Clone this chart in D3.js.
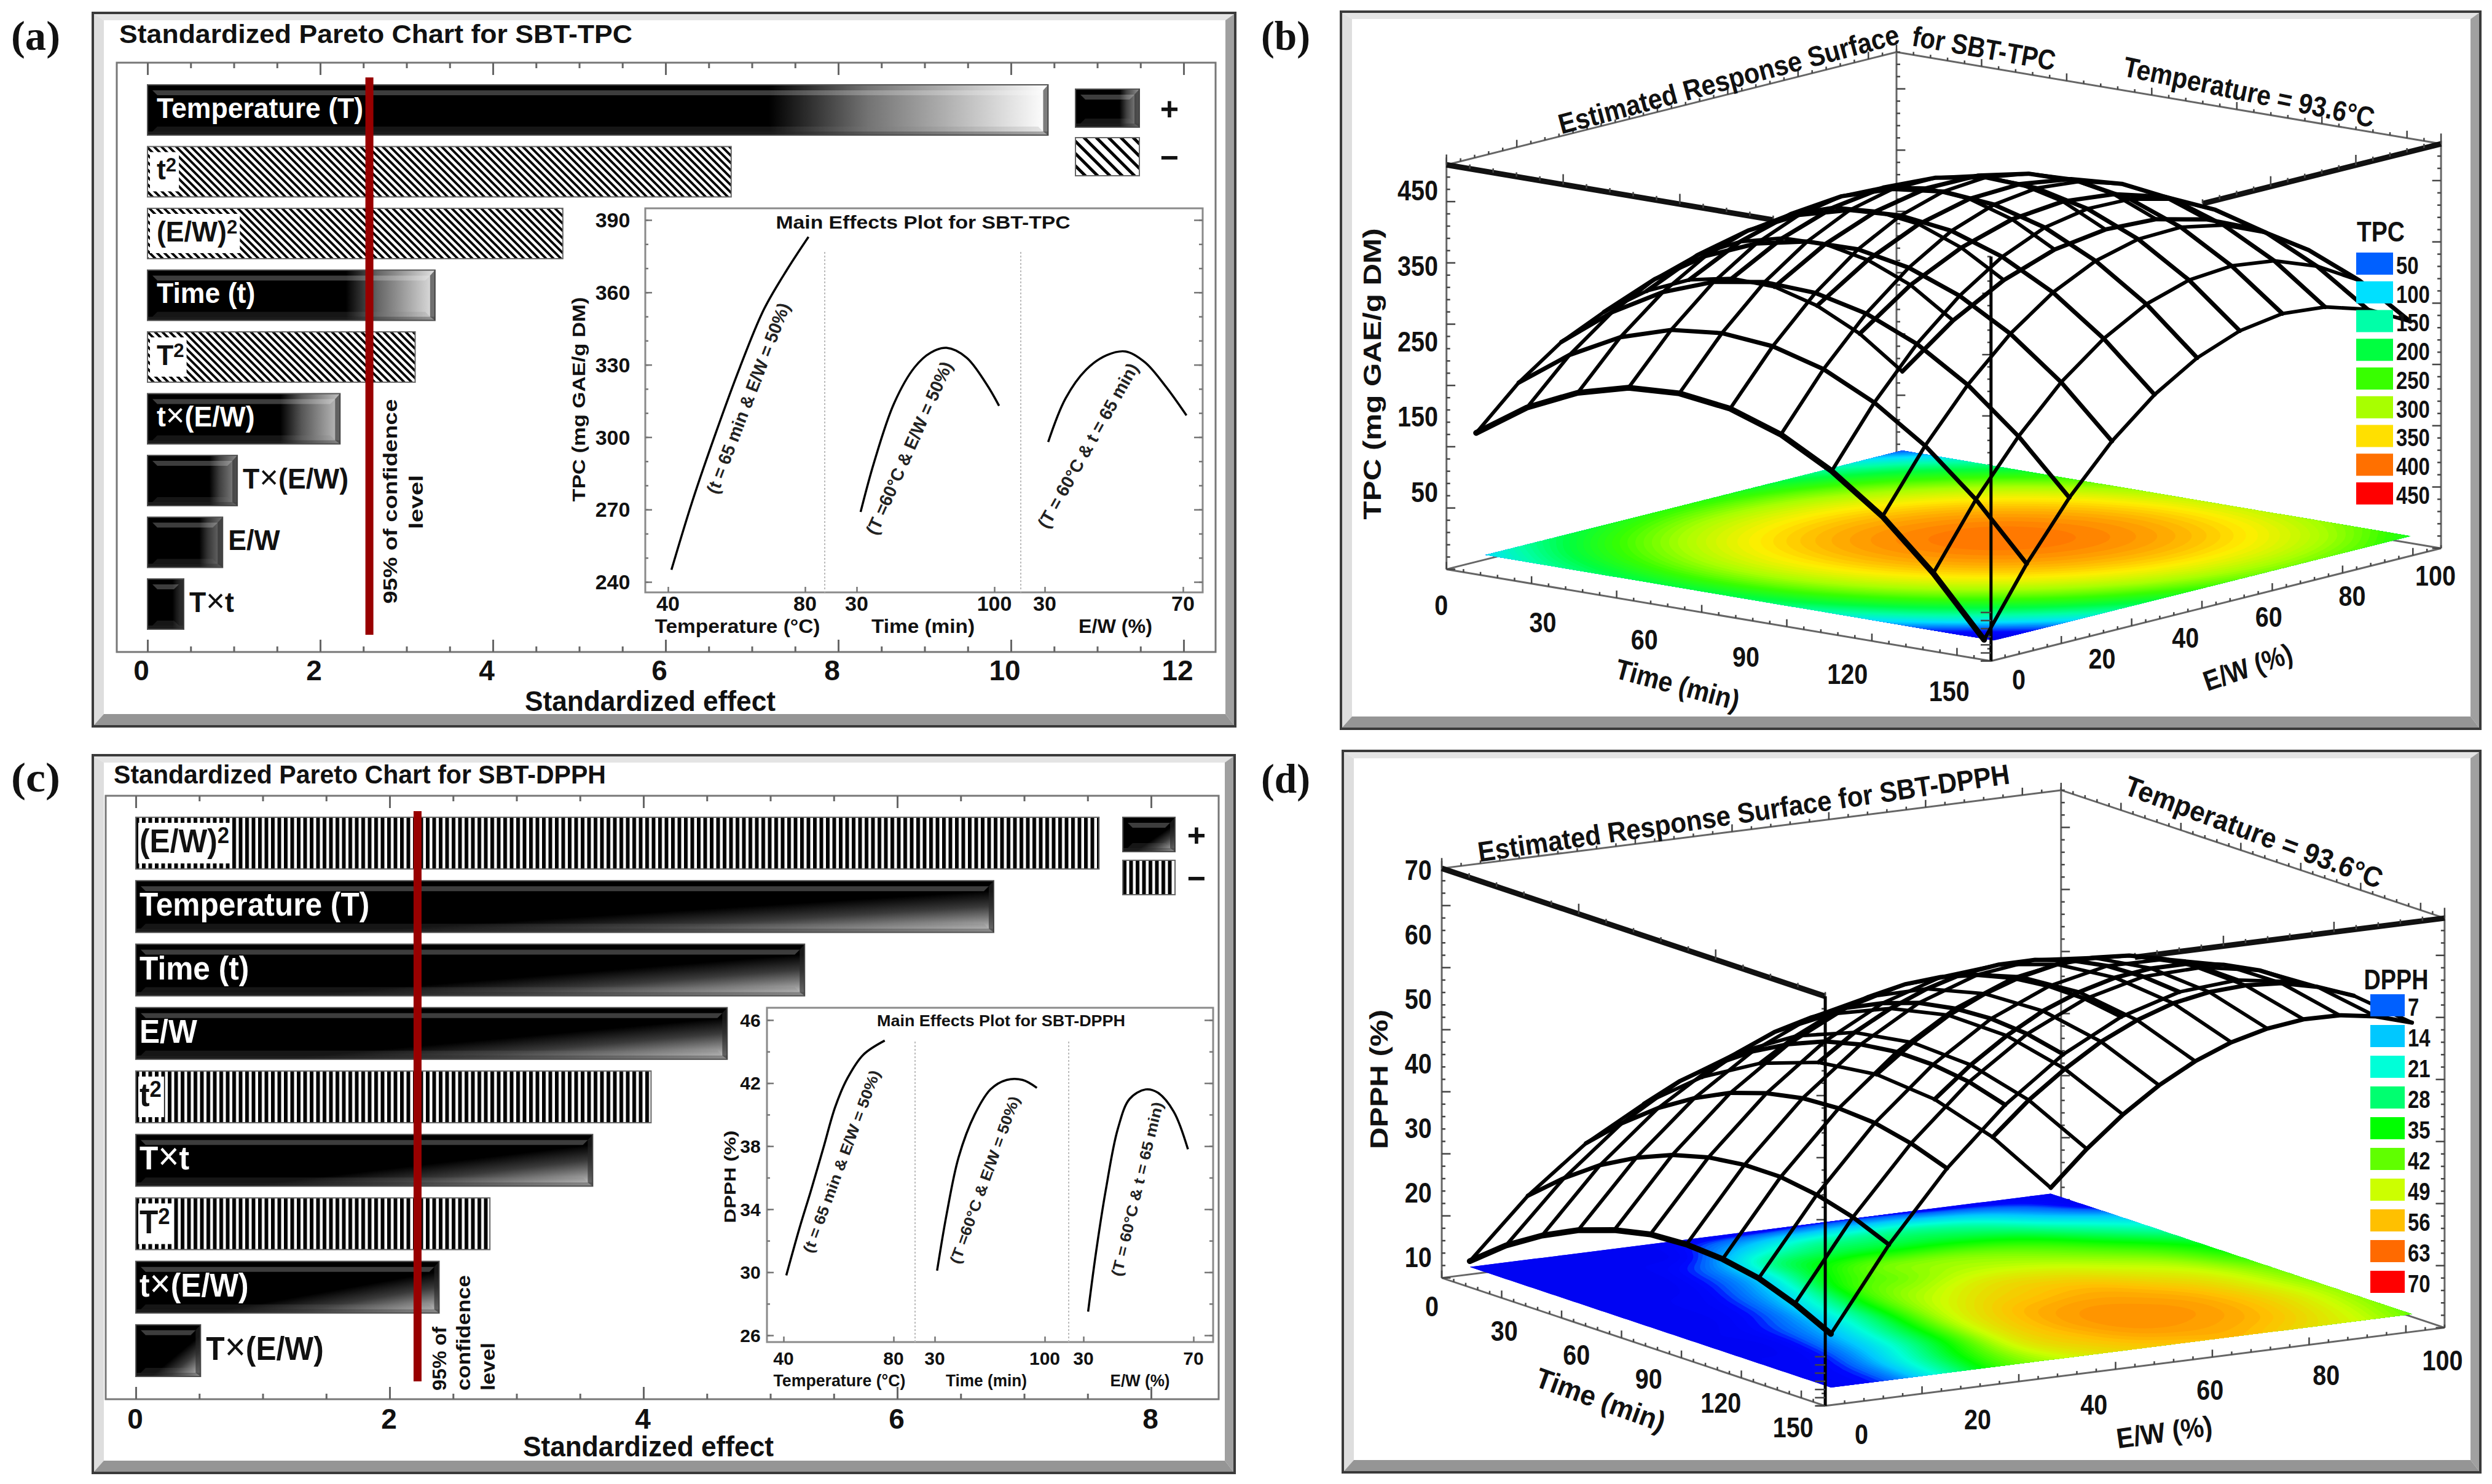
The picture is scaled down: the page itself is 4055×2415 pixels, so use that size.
<!DOCTYPE html>
<html>
<head>
<meta charset="utf-8">
<script src="https://cdn.jsdelivr.net/npm/d3@7"></script>
<style>
html, body { margin: 0; background: #fff; }
text { font-family: "Liberation Sans", Arial, sans-serif; font-weight: 700; fill: #111; }
</style>
</head>
<body>
<svg id="chart" width="4055" height="2415"></svg>
<script>
// --- values ---
const tpcTerms = ["Temperature (T)", "t^2", "(E/W)^2", "Time (t)", "T^2", "t×(E/W)", "T×(E/W)", "E/W", "T×t"];
const tpcEffects = [10.43, 6.76, 4.81, 3.33, 3.10, 2.23, 1.04, 0.87, 0.42];
const tpcSigns = ["+", "-", "-", "+", "-", "+", "+", "+", "+"];
const tpcLimit = 2.57;

const dpphTerms = ["(E/W)^2", "Temperature (T)", "Time (t)", "E/W", "t^2", "T×t", "T^2", "t×(E/W)", "T×(E/W)"];
const dpphEffects = [7.59, 6.76, 5.27, 4.66, 4.06, 3.60, 2.79, 2.39, 0.51];
const dpphSigns = ["-", "+", "+", "+", "-", "+", "-", "+", "+"];
const dpphLimit = 2.22;

const tpcTempCurve = [[41, 245], [47, 273], [54, 302], [61, 329], [68, 353], [75, 370], [81, 383]];
const tpcTimeCurve = [[32, 269], [39, 290], [49, 314], [59.5, 329], [67.6, 335], [75.7, 337], [85.8, 333], [96, 322], [102.4, 313]];
const tpcRatioCurve = [[31, 298], [36, 316], [42, 328], [48, 334], [53.4, 335.5], [59, 331], [65, 321], [71, 309]];
const dpphTempCurve = [[41, 29.8], [45.8, 32.8], [50, 35.2], [54.5, 37.9], [58.8, 40.5], [63.2, 42.3], [69, 43.8], [76.8, 44.7]];
const dpphTimeCurve = [[31.5, 30.1], [37.6, 33.7], [45.2, 37.3], [55.4, 40], [65.5, 41.6], [75.7, 42.2], [86, 42.2], [95, 41.7]];
const dpphRatioCurve = [[31.7, 27.5], [34.6, 31.3], [38.1, 35.2], [42.5, 39.1], [46.8, 41], [52.6, 41.6], [57, 41.4], [62.8, 40.2], [68, 37.8]];

const surfaceTime = [0, 15, 30, 45, 60, 75, 90, 105, 120, 135, 150];
const surfaceRatio = [0, 10, 20, 30, 40, 50, 60, 70, 80, 90, 100];

// rows: time, columns: E/W
const tpcSurface = [
  [109, 162, 202, 228, 242, 243, 231, 206, 167, 116, 52],
  [154, 210, 253, 283, 301, 305, 296, 274, 239, 192, 131],
  [185, 245, 291, 325, 345, 353, 348, 329, 298, 253, 196],
  [203, 266, 316, 353, 377, 388, 386, 371, 343, 302, 248],
  [207, 273, 327, 367, 395, 409, 410, 399, 374, 337, 286],
  [198, 267, 324, 368, 399, 417, 422, 413, 392, 358, 311],
  [175, 248, 308, 355, 390, 411, 419, 414, 397, 366, 322],
  [138, 215, 279, 329, 367, 392, 403, 402, 388, 360, 320],
  [89, 169, 236, 290, 331, 359, 374, 376, 365, 341, 304],
  [25, 109, 179, 237, 281, 313, 331, 336, 329, 308, 275],
  [-52, 35, 109, 170, 218, 253, 275, 284, 279, 262, 232]
];
const dpphSurface = [
  [7.6, 16.6, 23.6, 28.6, 31.6, 32.6, 31.6, 28.6, 23.6, 16.6, 7.6],
  [11.9, 21.2, 28.6, 34, 37.3, 38.7, 38.1, 35.4, 30.8, 24.2, 15.5],
  [15.3, 25.1, 32.8, 38.5, 42.3, 44, 43.7, 41.5, 37.2, 30.9, 22.7],
  [18, 28.1, 36.2, 42.3, 46.4, 48.5, 48.6, 46.7, 42.9, 37, 29.1],
  [19.9, 30.4, 38.9, 45.3, 49.8, 52.3, 52.8, 51.2, 47.7, 42.2, 34.7],
  [21.1, 31.9, 40.7, 47.6, 52.4, 55.3, 56.1, 55, 51.8, 46.7, 39.5],
  [21.4, 32.6, 41.8, 49, 54.3, 57.5, 58.7, 57.9, 55.1, 50.3, 43.5],
  [21, 32.6, 42.1, 49.7, 55.3, 58.9, 60.5, 60.1, 57.7, 53.2, 46.8],
  [19.9, 31.7, 41.7, 49.6, 55.6, 59.5, 61.5, 61.4, 59.4, 55.4, 49.3],
  [17.8, 30.1, 40.4, 48.8, 55.1, 59.4, 61.7, 62, 60.4, 56.7, 51],
  [15, 27.7, 38.4, 47.1, 53.8, 58.5, 61.2, 61.9, 60.5, 57.2, 51.9]
];
// the DPPH contour floor does not follow the wire mesh, so it is read on its own
const dpphFloor = [
  [3, 3, 3, 3, 3, 3, 5, 5, 3, 3, 3],
  [3, 3, 3, 4, 14, 22, 24, 24, 20, 12, 4],
  [3, 3, 3, 10, 27, 32, 33, 33, 30, 23, 16],
  [3, 3, 4, 13, 32, 42, 44, 43, 39, 32, 25],
  [3, 3, 6, 18, 38, 44, 48, 48, 45, 40, 33],
  [3, 3, 8, 23, 42, 49, 53, 53, 50, 46, 38],
  [3, 4, 11, 26, 45, 53, 56, 57, 54, 50, 43],
  [3, 4, 14, 30, 48, 56, 59, 59, 57, 52, 45],
  [3, 5, 17, 33, 50, 57, 60, 60, 58, 53, 46],
  [3, 7, 22, 38, 51, 56, 59, 59, 57, 52, 45],
  [3, 8, 25, 41, 49, 54, 56, 57, 54, 50, 43]
];

const tpcLegend = [50, 100, 150, 200, 250, 300, 350, 400, 450];
const dpphLegend = [7, 14, 21, 28, 35, 42, 49, 56, 63, 70];
const tpcLegendColors = ["#0060ff", "#00e0ff", "#00ffa8", "#00ff40", "#38ff00", "#a8ff00", "#ffe000", "#ff7000", "#ff0000"];
const dpphLegendColors = ["#0060ff", "#00c8ff", "#00ffd8", "#00ff70", "#00ff00", "#60ff00", "#ccff00", "#ffc000", "#ff6a00", "#ff0000"];
const tpcRampStops = [-60, 20, 50, 100, 150, 200, 250, 300, 350, 390, 425];
const tpcRampColors = ["#0000e0", "#0008ff", "#0060ff", "#00e0ff", "#00ffa8", "#00ff40", "#38ff00", "#a8ff00", "#ffee00", "#ffa800", "#ff6800"];
const dpphRampStops = [0, 5, 7, 14, 21, 28, 35, 42, 49, 56, 63];
const dpphRampColors = ["#0000e8", "#0008ff", "#0060ff", "#00c8ff", "#00ffd8", "#00ff70", "#00ff00", "#60ff00", "#ccff00", "#ffc000", "#ff6a00"];

const svg = d3.select("#chart");
const defs = svg.append("defs");
svg.append("rect").attr("width", 4055).attr("height", 2415).attr("fill", "#fff");

function label(g, s, x, y, o = {}) {
  const t = g.append("text")
    .attr("transform", `translate(${x},${y}) rotate(${o.rot || 0})`)
    .attr("dy", ".36em")
    .attr("text-anchor", o.anchor || "middle")
    .style("font-size", (o.size || 40) + "px")
    .text(s);
  if (o.len) t.attr("textLength", o.len).attr("lengthAdjust", "spacingAndGlyphs");
  if (o.family) t.style("font-family", o.family);
  if (o.fill) t.style("fill", o.fill);
  return t;
}

// term names carry "^2" for the exponent and a thin multiplication sign
function termLabel(g, name, x, y, size, fill, squeeze) {
  const t = g.append("text").attr("transform", `translate(${x},${y}) scale(${squeeze},1)`).attr("dy", ".36em")
    .style("font-size", size + "px").style("fill", fill);
  name.split(/(\^2|×)/).filter((s) => s).forEach((s) => {
    if (s === "^2") {
      t.append("tspan").attr("dy", "-.4em").style("font-size", "70%").text("2");
    } else if (s === "×") {
      t.append("tspan").style("font-weight", 400).style("font-size", "118%").text("×");
    } else {
      t.append("tspan").text(s);
    }
  });
  return t;
}

function panelFrame(x0, y0, x1, y1) {
  const g = svg.append("g");
  g.append("rect").attr("x", x0).attr("y", y0).attr("width", x1 - x0).attr("height", y1 - y0)
    .attr("fill", "#fff").attr("stroke", "#3a3a3a").attr("stroke-width", 4);
  const band = (pts, fill) => g.append("polygon").attr("points", pts.join(" ")).attr("fill", fill);
  band([[x0 + 2, y0 + 2], [x1 - 2, y0 + 2], [x1 - 16, y0 + 12], [x0 + 18, y0 + 12]], "#e4e4e4");
  band([[x0 + 2, y0 + 2], [x0 + 18, y0 + 12], [x0 + 18, y1 - 20], [x0 + 2, y1 - 2]], "#dedede");
  band([[x1 - 2, y0 + 2], [x1 - 16, y0 + 12], [x1 - 16, y1 - 20], [x1 - 2, y1 - 2]], "#a0a0a0");
  band([[x0 + 2, y1 - 2], [x0 + 18, y1 - 20], [x1 - 16, y1 - 20], [x1 - 2, y1 - 2]], "#959595");
}

function hatch(id, kind, size, black) {
  const p = defs.append("pattern").attr("id", id).attr("patternUnits", "userSpaceOnUse")
    .attr("width", size).attr("height", size);
  p.append("rect").attr("width", size).attr("height", size).attr("fill", "#fff");
  if (kind === "diag") {
    p.append("path").attr("d", `M${-size},0 L${size},${2 * size} M0,${-size} L${2 * size},${size} M${-size},${-size} L${2 * size},${2 * size}`)
      .attr("stroke", "#000").attr("stroke-width", black);
  } else {
    p.append("rect").attr("width", black).attr("height", size).attr("fill", "#000");
  }
}
hatch("diagBar", "diag", 12, 3.9);
hatch("diagKey", "diag", 20, 5);
hatch("vertBar", "vert", 10.5, 6);

const endTone = d3.scaleLinear().domain([0.4, 1.04, 2.23, 3.33, 10.43]).range(["#333", "#8a8a8a", "#c0c0c0", "#e0e0e0", "#fff"]).clamp(true);
let gradientCount = 0;
function barGradient(kind, value) {
  const id = "shade" + gradientCount++;
  if (kind === "side") {
    const g = defs.append("linearGradient").attr("id", id);
    [[0, "#000"], [0.69, "#000"], [0.8, d3.interpolateRgb("#000", endTone(value))(0.45)], [1, endTone(value)]]
      .forEach((s) => g.append("stop").attr("offset", s[0]).attr("stop-color", s[1]));
  } else {
    const g = defs.append("linearGradient").attr("id", id)
      .attr("x1", 0.5).attr("y1", 0.72).attr("x2", 0.92).attr("y2", 1.12);
    [[0, "#000"], [0.35, "#3a3a3a"], [0.9, "#c4c4c4"], [1, "#d8d8d8"]]
      .forEach((s) => g.append("stop").attr("offset", s[0]).attr("stop-color", s[1]));
  }
  return `url(#${id})`;
}

function solidBar(g, x, y, w, h, kind, value) {
  g.append("rect").attr("x", x).attr("y", y).attr("width", w).attr("height", h)
    .attr("fill", barGradient(kind, value)).attr("stroke", "#555").attr("stroke-width", 2);
  const b = Math.min(8, w / 6), top = 9;
  const facet = (pts, fill) => g.append("polygon").attr("points", pts.join(" ")).attr("fill", fill);
  facet([[x + b, y + top], [x + w - b, y + top], [x + w - 2 * b, y + top + 8], [x + 2 * b, y + top + 8]], "rgba(255,255,255,.24)");
  facet([[x + 2 * b, y + h - 14], [x + w - 2 * b, y + h - 14], [x + w - b, y + h - 6], [x + b, y + h - 6]], "rgba(120,120,120,.18)");
  facet([[x + w, y], [x + w - b, y + top], [x + w - b, y + h - 6], [x + w, y + h]], "rgba(40,40,40,.6)");
  facet([[x, y + h - 6], [x + w, y + h - 6], [x + w, y + h], [x, y + h]], "rgba(60,60,60,.45)");
}

function pareto(c) {
  const g = svg.append("g");
  g.append("rect").attr("x", c.plot[0]).attr("y", c.plot[1]).attr("width", c.plot[2] - c.plot[0]).attr("height", c.plot[3] - c.plot[1])
    .attr("fill", "#fff").attr("stroke", "#777").attr("stroke-width", 3);
  label(g, c.title, c.titleAt[0], c.titleAt[1], { anchor: "start", size: 42, len: c.titleLen });

  const x = d3.scaleLinear().domain(c.domain).range(c.xRange);
  const y = d3.scaleBand().domain(c.terms).range(c.yRange).paddingInner(0.185);

  const minor = d3.range(c.domain[0], c.domain[1] + 0.01, 0.5).filter((v) => !c.xTicks.includes(v));
  [[d3.axisBottom, c.plot[3]], [d3.axisTop, c.plot[1]]].forEach(([axis, pos]) => {
    [[c.xTicks, 20], [minor, 9]].forEach(([vals, len]) => {
      g.append("g").attr("transform", `translate(0,${pos})`)
        .call(axis(x).tickValues(vals).tickSize(-len).tickFormat(""))
        .call((a) => a.select(".domain").remove())
        .call((a) => a.selectAll("line").attr("stroke", "#666").attr("stroke-width", 3));
    });
  });
  c.xTicks.forEach((v) => label(g, v, x(v) + c.tickShift, c.tickY, { size: 46 }));
  label(g, "Standardized effect", c.nameAt[0], c.nameAt[1], { size: 46, len: 408 });

  c.terms.forEach((name, i) => {
    const v = c.effects[i], bx = x(0), by = y(name), bw = x(v) - x(0), bh = y.bandwidth();
    const inside = v > c.outsideBelow;
    const ty = by + bh / 2 - 4;
    if (c.signs[i] === "+") {
      solidBar(g, bx, by, bw, bh, c.shade, v);
      if (inside) termLabel(g, name, bx + c.textPad, ty, c.barFont, "#fff", c.squeeze);
    } else {
      g.append("rect").attr("x", bx).attr("y", by).attr("width", bw).attr("height", bh)
        .attr("fill", `url(#${c.hatchBar})`).attr("stroke", "#666").attr("stroke-width", 2);
      const t = termLabel(g, name, bx + c.textPad, ty, c.barFont, "#111", c.squeeze);
      const box = t.node().getBBox();
      g.insert("rect", () => t.node()).attr("x", bx + 4).attr("y", by + 9)
        .attr("width", c.textPad + box.width * c.squeeze).attr("height", bh - 18).attr("fill", "#fff");
    }
    if (!inside) termLabel(g, name, bx + bw + 9, ty, c.barFont, "#111", c.squeeze);
  });

  g.append("line").attr("x1", x(c.limit)).attr("x2", x(c.limit)).attr("y1", c.limitY[0]).attr("y2", c.limitY[1])
    .attr("stroke", "#980000").attr("stroke-width", 13);
  c.limitText.forEach((d) => label(g, d.s, d.x, d.y, { rot: -90, size: 32, len: d.len, anchor: d.anchor }));

  solidBar(g, c.key[0], c.key[1], c.key[2], c.key[3], c.shade, 1.2);
  g.append("rect").attr("x", c.key[0]).attr("y", c.key[4]).attr("width", c.key[2]).attr("height", c.key[3])
    .attr("fill", `url(#${c.hatchKey})`).attr("stroke", "#666").attr("stroke-width", 2);
  label(g, "+", c.keyText, c.key[1] + c.key[3] / 2, { size: 52 });
  label(g, "−", c.keyText, c.key[4] + c.key[3] / 2, { size: 52 });

  inset(g, c.inset);
}

function inset(parent, c) {
  const g = parent.append("g");
  const [x0, y0, x1, y1] = c.frame;
  g.append("rect").attr("x", x0).attr("y", y0).attr("width", x1 - x0).attr("height", y1 - y0)
    .attr("fill", "#fff").attr("stroke", "#8a8a8a").attr("stroke-width", 3);
  const y = d3.scaleLinear().domain(c.yDomain).range(c.yRange);
  const ySide = (axis, pos, vals, len) => g.append("g").attr("transform", `translate(${pos},0)`)
    .call(axis(y).tickValues(vals).tickSize(-len).tickFormat(""))
    .call((a) => a.select(".domain").remove())
    .call((a) => a.selectAll("line").attr("stroke", "#777").attr("stroke-width", 2.5));
  ySide(d3.axisLeft, x0, c.yMinor, 5);
  ySide(d3.axisRight, x1, c.yMinor, 6);
  ySide(d3.axisLeft, x0, c.yTicks, 11);
  ySide(d3.axisRight, x1, c.yTicks, 14);
  c.yTicks.forEach((v) => label(g, v, c.yLabelX, y(v), { size: c.tick }));
  label(g, c.yName, c.yNameAt[0], c.yNameAt[1], { rot: -90, size: c.tick - 4, len: c.yNameLen });
  label(g, c.title, c.titleAt[0], c.titleAt[1], { size: c.tick - 4, len: c.titleLen });

  c.seps.forEach((s) => g.append("line").attr("x1", s).attr("x2", s).attr("y1", c.sepTop).attr("y2", y1)
    .attr("stroke", "#bbb").attr("stroke-width", 2).attr("stroke-dasharray", "3 3"));

  c.parts.forEach((p) => {
    const x = d3.scaleLinear().domain(p.domain).range(p.range);
    g.append("g").attr("transform", `translate(0,${y1})`)
      .call(d3.axisBottom(x).tickValues(p.domain).tickSize(-9).tickFormat(""))
      .call((a) => a.select(".domain").remove())
      .call((a) => a.selectAll("line").attr("stroke", "#777").attr("stroke-width", 2.5));
    p.domain.forEach((v) => label(g, v, x(v), c.tickY, { size: c.tick }));
    label(g, p.name, p.nameX, c.nameY, { size: c.tick - 3, len: p.nameLen });
    g.append("path").datum(p.curve).attr("fill", "none").attr("stroke", "#000").attr("stroke-width", 3.5)
      .attr("d", d3.line().x((d) => x(d[0])).y((d) => y(d[1])).curve(d3.curveCatmullRom));
    label(g, p.note, p.noteAt[0], p.noteAt[1], { rot: p.noteRot, size: c.tick - 5, len: p.noteLen, fill: "#222" });
  });
}

// cubic smoothing of a read grid, only so that the contour bands are drawn round
function smoothGrid(grid, k) {
  const n = grid.length, m = grid[0].length, size = (n - 1) * k + 1;
  const at = (i, j) => {
    const a = Math.max(0, Math.min(n - 1, i)), b = Math.max(0, Math.min(m - 1, j));
    return grid[a][b] + (i - a) * (a > 0 ? grid[a][b] - grid[a - 1][b] : grid[a + 1][b] - grid[a][b])
      + (j - b) * (b > 0 ? grid[a][b] - grid[a][b - 1] : grid[a][b + 1] - grid[a][b]);
  };
  const cr = (p0, p1, p2, p3, f) => 0.5 * (2 * p1 + (p2 - p0) * f + (2 * p0 - 5 * p1 + 4 * p2 - p3) * f * f + (3 * p1 - p0 - 3 * p2 + p3) * f * f * f);
  const values = new Array(size * size);
  for (let a = 0; a < size; a++) {
    const i = Math.min(n - 2, Math.floor(a / k)), fi = a / k - i;
    for (let b = 0; b < size; b++) {
      const j = Math.min(m - 2, Math.floor(b / k)), fj = b / k - j;
      const col = [-1, 0, 1, 2].map((d) => cr(at(i + d, j - 1), at(i + d, j), at(i + d, j + 1), at(i + d, j + 2), fj));
      values[b + a * size] = cr(col[0], col[1], col[2], col[3], fi);
    }
  }
  return { values, size };
}

function surfacePanel(c) {
  const g = svg.append("g");
  const px = (p) => [c.ox + p[0] * c.sx, c.oy + p[1] * c.sy];
  const tx = d3.scaleLinear().domain([0, 150]).range([0, c.u[0]]);
  const ty = d3.scaleLinear().domain([0, 150]).range([0, c.u[1]]);
  const ex = d3.scaleLinear().domain([0, 100]).range([0, c.v[0]]);
  const ey = d3.scaleLinear().domain([0, 100]).range([0, c.v[1]]);
  const zy = d3.scaleLinear().domain(c.zDomain).range([0, c.height]);
  const crop = (t, e, z) => [c.floor[0] + tx(t) + ex(e), c.floor[1] + ty(t) + ey(e) - zy(z)];
  const project = (t, e, z) => px(crop(t, e, z));
  const nudge = d3.scaleLinear().domain([0, 100]).range([c.wireNudge, 0]);
  const wirePoint = (t, e, z) => {
    const p = crop(t, e, z);
    return px([p[0] + nudge(e), p[1]]);
  };
  const color = d3.scaleLinear().domain(c.rampStops).range(c.rampColors).clamp(true);

  const [t0, t1] = c.boxT, [e0, e1] = c.boxE, [zb, zt] = c.zDomain;
  const edge = (a, b, w, col, frac = 1) => {
    const end = [a[0] + (b[0] - a[0]) * frac, a[1] + (b[1] - a[1]) * frac];
    g.append("line").attr("x1", a[0]).attr("y1", a[1]).attr("x2", end[0]).attr("y2", end[1])
      .attr("stroke", col).attr("stroke-width", w);
  };
  const ticks = (a, b, count, dx, dy, every) => d3.range(0, count + 1).forEach((k) => {
    const f = k / count, x = a[0] + (b[0] - a[0]) * f, y = a[1] + (b[1] - a[1]) * f, s = k % every === 0 ? 2.4 : 1;
    g.append("line").attr("x1", x).attr("y1", y).attr("x2", x + dx * s).attr("y2", y + dy * s)
      .attr("stroke", "#444").attr("stroke-width", 2.5);
  });

  const Lb = project(t0, e0, zb), Fb = project(t1, e0, zb), Rb = project(t1, e1, zb), Bb = project(t0, e1, zb);
  const Lt = project(t0, e0, zt), Ft = project(t1, e0, zt), Rt = project(t1, e1, zt), Bt = project(t0, e1, zt);

  [[Lb, Lt], [Rb, Rt], [Bb, Bt], [Lb, Fb], [Fb, Rb], [Lb, Bb], [Bb, Rb], [Lt, Bt], [Bt, Rt]]
    .forEach(([a, b]) => edge(a, b, 3, "#666"));
  [[Lb, Lt, 6, 0], [Rb, Rt, -6, 0], [Bb, Bt, 6, 0], [Fb, Ft, -6, 0]].forEach(([a, b, dx, dy]) => ticks(a, b, 33, dx, dy, 5));
  ticks(Lb, Fb, 32, 0, -5, 5);
  ticks(Fb, Rb, 32, 0, -5, 5);
  ticks(Lt, Bt, 32, 0, -5, 5);
  ticks(Bt, Rt, 32, 0, -5, 5);
  edge(Lt, Ft, 9, "#111", c.thickLeft);
  edge(Rt, Ft, 9, "#111", c.thickRight);
  ticks(Lt, [Lt[0] + (Ft[0] - Lt[0]) * c.thickLeft, Lt[1] + (Ft[1] - Lt[1]) * c.thickLeft], 14, 0, -7, 5);
  ticks(Rt, [Rt[0] + (Ft[0] - Rt[0]) * c.thickRight, Rt[1] + (Ft[1] - Rt[1]) * c.thickRight], 14, 0, -7, 5);

  // contour floor
  const k = 8;
  const { values, size } = smoothGrid(c.floorGrid, k);
  const lo = d3.min(values) - 1, hi = d3.max(values);
  const levels = d3.range(lo, hi, (hi - lo) / 70);
  const floorPath = d3.geoPath(d3.geoTransform({
    point(x, y) {
      const t = Math.max(0, Math.min(150, ((y - 0.5) / k) * 15));
      const e = Math.max(0, Math.min(100, ((x - 0.5) / k) * 10));
      const p = project(t, e, zb);
      this.stream.point(p[0], p[1]);
    }
  }));
  g.append("g").selectAll("path")
    .data(d3.contours().size([size, size]).thresholds(levels)(values))
    .join("path")
    .attr("d", floorPath)
    .attr("fill", (d) => color(d.value));

  edge(Fb, Ft, 5, "#000");
  ticks(Fb, [Fb[0], Fb[1] + (Ft[1] - Fb[1]) * 0.12], 6, -7, 0, 1);

  // wire mesh
  const wire = d3.line().x((d) => d[0]).y((d) => d[1]);
  const mesh = g.append("g").attr("fill", "none").attr("stroke", "#000").attr("stroke-linejoin", "round").attr("stroke-linecap", "round");
  surfaceTime.forEach((t, i) => {
    mesh.append("path").attr("stroke-width", 5.8)
      .attr("d", wire(surfaceRatio.map((e, j) => wirePoint(t, e, c.surface[i][j]))));
  });
  surfaceRatio.forEach((e, j) => {
    mesh.append("path").attr("stroke-width", j === 0 ? 9.5 : 7)
      .attr("d", wire(surfaceTime.map((t, i) => wirePoint(t, e, c.surface[i][j]))));
  });

  // axis numbers
  c.zTicks.forEach((v) => {
    const p = project(t0, e0, v);
    label(g, v, c.ox + c.zLabelX * c.sx, p[1], { anchor: "end", size: 46, len: String(v).length * 22 });
  });
  c.tTicks.forEach((v) => {
    const p = crop(v, e0, zb), q = px([p[0] + c.tOffset[0], p[1] + c.tOffset[1]]);
    label(g, v, q[0], q[1], { size: 46, len: String(v).length * 22 });
  });
  c.eTicks.forEach((v) => {
    const p = crop(t1, v, zb), q = px([p[0] + c.eOffset[0], p[1] + c.eOffset[1]]);
    label(g, v, q[0], q[1], { size: 46, len: String(v).length * 22 });
  });
  c.texts.forEach((d) => {
    const q = px(d.at);
    label(g, d.s, q[0], q[1], { rot: d.rot, size: d.size || 46, len: d.len });
  });

  // colour key
  const keyY = d3.scaleLinear().domain([0, c.legend.length - 1]).range(c.keyRange);
  c.legend.forEach((v, i) => {
    g.append("rect").attr("x", c.keyX).attr("y", keyY(i)).attr("width", c.keyW).attr("height", 36).attr("fill", c.legendColors[i]);
    label(g, v, c.keyX + c.keyW + 5, keyY(i) + 20, { anchor: "start", size: 41, len: String(v).length * 18.3 });
  });
  label(g, c.keyTitle[0], c.keyTitle[1], c.keyTitle[2], { size: 46, len: c.keyTitle[3] });
}

// --- panels ---
panelFrame(151, 21, 2010, 1182);
panelFrame(151, 1229, 2009, 2397);
panelFrame(2182, 19, 4036, 1186);
panelFrame(2185, 1222, 4036, 2396);

[["(a)", 58, 57], ["(b)", 2092, 57], ["(c)", 58, 1264], ["(d)", 2092, 1266]].forEach((d) =>
  label(svg, d[0], d[1], d[2], { size: 68, family: '"Liberation Serif", serif', len: 80 }));

pareto({
  title: "Standardized Pareto Chart for SBT-TPC", titleAt: [194, 55], titleLen: 835,
  plot: [190, 102, 1978, 1061],
  domain: [0, 12], xRange: [240, 1926], xTicks: [0, 2, 4, 6, 8, 10, 12],
  yRange: [138, 1024], tickY: 1090, tickShift: -10, nameAt: [1058, 1140],
  terms: tpcTerms, effects: tpcEffects, signs: tpcSigns, limit: tpcLimit, limitY: [126, 1033],
  outsideBelow: 1.5, shade: "side", barFont: 46, squeeze: 0.97, textPad: 15, hatchBar: "diagBar", hatchKey: "diagKey",
  limitText: [{ s: "95% of confidence", x: 634, y: 816, len: 333 }, { s: "level", x: 676, y: 817, len: 88 }],
  key: [1750, 145, 104, 62, 224], keyText: 1903,
  inset: {
    frame: [1050, 339, 1957, 964], yDomain: [240, 390], yRange: [947, 358],
    yTicks: [240, 270, 300, 330, 360, 390], yMinor: d3.range(240, 391, 10),
    yLabelX: 997, tick: 34, tickY: 982, nameY: 1019,
    yName: "TPC (mg GAE/g DM)", yNameAt: [941, 650], yNameLen: 333,
    title: "Main Effects Plot for SBT-TPC", titleAt: [1502, 361], titleLen: 479,
    seps: [1342, 1661], sepTop: 410,
    parts: [
      { domain: [40, 80], range: [1087, 1310], name: "Temperature (°C)", nameX: 1200, nameLen: 269, curve: tpcTempCurve,
        note: "(t = 65 min & E/W = 50%)", noteAt: [1217, 648], noteRot: -69, noteLen: 330 },
      { domain: [30, 100], range: [1394, 1618], name: "Time (min)", nameX: 1502, nameLen: 168, curve: tpcTimeCurve,
        note: "(T =60°C & E/W = 50%)", noteAt: [1479, 729], noteRot: -66, noteLen: 305 },
      { domain: [30, 70], range: [1700, 1925], name: "E/W (%)", nameX: 1815, nameLen: 120, curve: tpcRatioCurve,
        note: "(T = 60°C & t = 65 min)", noteAt: [1770, 725], noteRot: -60.6, noteLen: 303 }
    ]
  }
});

pareto({
  title: "Standardized Pareto Chart for SBT-DPPH", titleAt: [185, 1260], titleLen: 801,
  plot: [172, 1295, 1983, 2277],
  domain: [0, 8], xRange: [221, 1873], xTicks: [0, 2, 4, 6, 8],
  yRange: [1330, 2240], tickY: 2308, tickShift: -1, nameAt: [1055, 2353],
  terms: dpphTerms, effects: dpphEffects, signs: dpphSigns, limit: dpphLimit, limitY: [1320, 2248],
  outsideBelow: 1, shade: "corner", barFont: 53, squeeze: 0.937, textPad: 6, hatchBar: "vertBar", hatchKey: "vertBar",
  limitText: [
    { s: "95% of", x: 714, y: 2263, len: 104, anchor: "start" },
    { s: "confidence", x: 753, y: 2263, len: 188, anchor: "start" },
    { s: "level", x: 793, y: 2263, len: 78, anchor: "start" }
  ],
  key: [1827, 1330, 85, 56, 1400], keyText: 1947,
  inset: {
    frame: [1248, 1640, 1974, 2184], yDomain: [26, 46], yRange: [2173, 1660],
    yTicks: [26, 30, 34, 38, 42, 46], yMinor: d3.range(26, 47, 2),
    yLabelX: 1221, tick: 30, tickY: 2210, nameY: 2246,
    yName: "DPPH (%)", yNameAt: [1188, 1915], yNameLen: 151,
    title: "Main Effects Plot for SBT-DPPH", titleAt: [1629, 1661], titleLen: 404,
    seps: [1489, 1739], sepTop: 1695,
    parts: [
      { domain: [40, 80], range: [1275, 1454], name: "Temperature (°C)", nameX: 1366, nameLen: 215, curve: dpphTempCurve,
        note: "(t = 65 min & E/W = 50%)", noteAt: [1369, 1890], noteRot: -69.5, noteLen: 315 },
      { domain: [30, 100], range: [1521, 1700], name: "Time (min)", nameX: 1605, nameLen: 132, curve: dpphTimeCurve,
        note: "(T =60°C & E/W = 50%)", noteAt: [1602, 1920], noteRot: -70, noteLen: 288 },
      { domain: [30, 70], range: [1763, 1942], name: "E/W (%)", nameX: 1855, nameLen: 97, curve: dpphRatioCurve,
        note: "(T = 60°C & t = 65 min)", noteAt: [1850, 1935], noteRot: -76.5, noteLen: 291 }
    ]
  }
});

surfacePanel({
  ox: 2030, oy: 0, sx: 1.2915, sy: 0.7653,
  floor: [300, 1180], u: [640, 182], v: [525, -222], height: 860,
  zDomain: [-53, 484], boxT: [3.2, 164], boxE: [-12, 96], wireNudge: -12,
  surface: tpcSurface, floorGrid: tpcSurface, rampStops: tpcRampStops, rampColors: tpcRampColors,
  zTicks: [50, 150, 250, 350, 450], zLabelX: 240,
  tTicks: [0, 30, 60, 90, 120, 150], tOffset: [7, 80],
  eTicks: [0, 20, 40, 60, 80, 100], eOffset: [-28, 66],
  thickLeft: 0.6, thickRight: 0.53,
  legend: tpcLegend, legendColors: tpcLegendColors, keyX: 3834, keyW: 60, keyRange: [411, 785], keyTitle: ["TPC", 3874, 376, 78],
  texts: [
    { s: "Estimated Response Surface", at: [606, 168], rot: -15, len: 572 },
    { s: "for SBT-TPC", at: [928, 102], rot: 10, len: 236 },
    { s: "Temperature = 93.6°C", at: [1262, 195], rot: 11.7, len: 416 },
    { s: "TPC (mg GAE/g DM)", at: [157, 795], rot: -90, len: 474, size: 40 },
    { s: "Time (min)", at: [542, 1455], rot: 15, len: 207 },
    { s: "E/W (%)", at: [1260, 1418], rot: -19, len: 150 }
  ]
});

surfacePanel({
  ox: 2030, oy: 1200, sx: 1.2915, sy: 0.775,
  floor: [280, 1112], u: [455, 253], v: [732, -154], height: 860,
  zDomain: [6.7, 70.2], boxT: [6.7, 166], boxE: [-7.6, 99], wireNudge: 0,
  surface: dpphSurface, floorGrid: dpphFloor, rampStops: dpphRampStops, rampColors: dpphRampColors,
  zTicks: [10, 20, 30, 40, 50, 60, 70], zLabelX: 232,
  tTicks: [0, 30, 60, 90, 120, 150], tOffset: [8, 71],
  eTicks: [0, 20, 40, 60, 80, 100], eOffset: [-10, 70],
  thickLeft: 1, thickRight: 0.5,
  legend: dpphLegend, legendColors: dpphLegendColors, keyX: 3857, keyW: 56, keyRange: [1618, 2068], keyTitle: ["DPPH", 3899, 1593, 105],
  texts: [
    { s: "Estimated Response Surface for SBT-DPPH", at: [625, 158], rot: -8.4, len: 874 },
    { s: "Temperature = 93.6°C", at: [1268, 198], rot: 20.4, len: 444 },
    { s: "DPPH  (%)", at: [165, 718], rot: -90, len: 227, size: 40 },
    { s: "Time (min)", at: [445, 1390], rot: 20, len: 221 },
    { s: "E/W (%)", at: [1155, 1458], rot: -8, len: 157 }
  ]
});
</script>
</body>
</html>
